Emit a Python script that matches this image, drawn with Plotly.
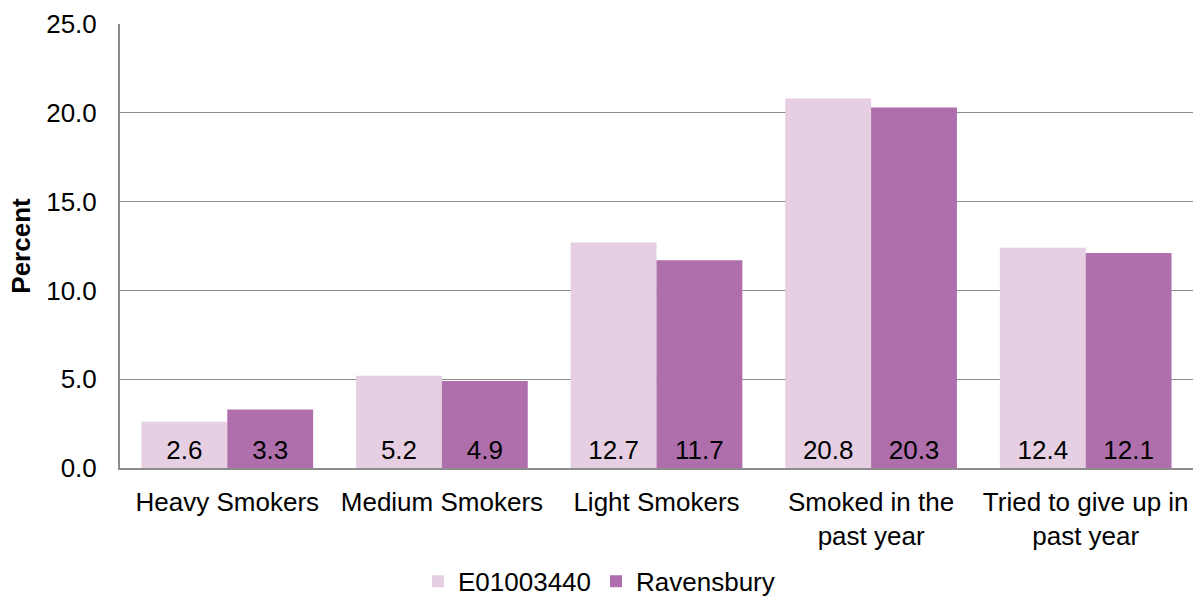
import plotly.graph_objects as go

categories = ["Heavy Smokers", "Medium Smokers", "Light Smokers",
              "Smoked in the<br>past year", "Tried to give up in<br>past year"]
area_values = [2.6, 5.2, 12.7, 20.8, 12.4]
ward_values = [3.3, 4.9, 11.7, 20.3, 12.1]
series_names = ["E01003440", "Ravensbury"]
y_ticks = [0, 5, 10, 15, 20, 25]

font_family = "Liberation Sans, Arial, sans-serif"
fs = 26

fig = go.Figure()
for name, vals, color in [(series_names[0], area_values, "#E6CFE3"),
                          (series_names[1], ward_values, "#AE6FAC")]:
    fig.add_trace(go.Bar(
        x=categories, y=vals, name=name,
        marker=dict(color=color, line=dict(width=0)),
        text=[f"{v:.1f}" for v in vals],
        textposition="inside", insidetextanchor="start",
        textfont=dict(size=fs, color="#000000", family=font_family),
        textangle=0,
    ))

fig.update_layout(
    barmode="group", bargap=0.2, bargroupgap=0,
    width=1198, height=598,
    margin=dict(l=120, r=5, t=24, b=130, autoexpand=False),
    plot_bgcolor="white", paper_bgcolor="white",
    font=dict(family=font_family, size=fs, color="#000000"),
    showlegend=True,
    legend=dict(orientation="h", xref="container", x=0.5, xanchor="center",
                yref="container", y=0.028, yanchor="middle",
                font=dict(size=fs), traceorder="normal"),
    uniformtext=dict(mode=False),
)
fig.update_yaxes(
    range=[0, 25], tickvals=y_ticks, ticktext=[f"{t:.1f}" for t in y_ticks],
    showgrid=True, gridcolor="#8C8C8C", gridwidth=1,
    showline=True, linecolor="#8C8C8C", linewidth=2,
    ticks="", ticklen=0, ticklabelstandoff=16,
    tickfont=dict(size=fs),
    title=dict(text="<b>Percent</b>", font=dict(size=fs), standoff=8),
    zeroline=False,
)
fig.update_xaxes(
    showline=True, linecolor="#8C8C8C", linewidth=2,
    ticks="", tickangle=0, ticklabelstandoff=10,
    tickfont=dict(size=fs),
)

fig.write_html("out.html")
